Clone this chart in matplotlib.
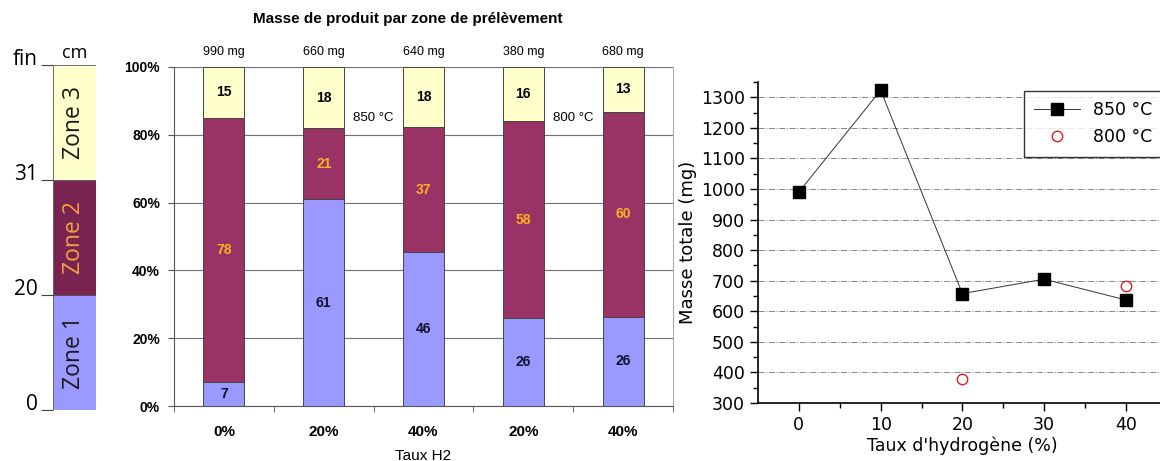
import numpy as np
import matplotlib.pyplot as plt

# data
zones = ['Zone 1', 'Zone 2', 'Zone 3']
zone_marks = ['0', '20', '31', 'fin']

bar_cats = ['0%', '20%', '40%', '20%', '40%']
masses = ['990 mg', '660 mg', '640 mg', '380 mg', '680 mg']
zone1 = [7, 61, 46, 26, 26]
zone2 = [78, 21, 37, 58, 60]
zone3 = [15, 18, 18, 16, 13]

h2_850 = [0, 10, 20, 30, 40]
mass_850 = [990, 1323, 658, 705, 637]
h2_800 = [20, 40]
mass_800 = [380, 682]

c1, c2, c3 = '#9999ff', '#993366', '#ffffcc'

W, H = 1160, 461
fig = plt.figure(figsize=(W / 100, H / 100), dpi=100)

def box(x0, y0, x1, y1):
    return [x0 / W, 1 - y1 / H, (x1 - x0) / W, (y1 - y0) / H]

# ---- left column: sampling zones
axz = fig.add_axes(box(53, 65, 96, 410))
zcols = ['#9999ff', '#7a2250', '#ffffcc']
ztxt = ['#1a1a1a', '#f5a040', '#1a1a1a']
for i, z in enumerate(zones):
    axz.bar(0, 1, bottom=i, width=1, color=zcols[i], edgecolor='#555555', lw=0.6)
    axz.text(0, i + 0.5, z, rotation=90, ha='center', va='center',
             fontsize=16.5, color=ztxt[i], family='Open Sans')
axz.set_xlim(-0.5, 0.5)
axz.set_ylim(0, 3)
axz.set_xticks([])
axz.set_yticks(range(len(zone_marks)))
axz.set_yticklabels(zone_marks, fontsize=15, family='Open Sans', va='baseline')
axz.tick_params(axis='y', length=9, width=0.8, color='#444444', pad=2)
for s in axz.spines.values():
    s.set_visible(False)
axz.text(0, 3.03, 'cm', ha='center', va='bottom', fontsize=13, family='Open Sans')

# ---- middle: 100% stacked bars
axb = fig.add_axes(box(174, 67, 673, 406))
tot = np.array(zone1) + np.array(zone2) + np.array(zone3)
p1 = np.array(zone1) / tot
p2 = np.array(zone2) / tot
p3 = np.array(zone3) / tot
x = np.arange(len(bar_cats))
bw = 0.41
axb.bar(x, p1, bw, color=c1, edgecolor='#444444', lw=0.7, zorder=3)
axb.bar(x, p2, bw, bottom=p1, color=c2, edgecolor='#444444', lw=0.7, zorder=3)
axb.bar(x, p3, bw, bottom=p1 + p2, color=c3, edgecolor='#444444', lw=0.7, zorder=3)
lab = dict(ha='center', va='center', fontsize=10, fontweight='bold', family='Liberation Sans', zorder=4)
for i in range(len(x)):
    axb.text(x[i], p1[i] / 2, str(zone1[i]), color='#101030', **lab)
    axb.text(x[i], p1[i] + p2[i] / 2, str(zone2[i]), color='#ffb020', **lab)
    axb.text(x[i], p1[i] + p2[i] + p3[i] / 2, str(zone3[i]), color='black', **lab)
    axb.text(x[i], 1.045, masses[i], ha='center', va='center', fontsize=9,
             family='Liberation Sans')
axb.text(1.5, 0.85, '850 °C', ha='center', va='center', fontsize=9.5, family='Liberation Sans')
axb.text(3.5, 0.85, '800 °C', ha='center', va='center', fontsize=9.5, family='Liberation Sans')
axb.set_xlim(-0.5, 4.5)
axb.set_ylim(0, 1)
axb.set_yticks(np.linspace(0, 1, 6))
axb.set_yticklabels([f'{int(v)}%' for v in np.linspace(0, 100, 6)],
                    fontsize=10, fontweight='bold', family='Liberation Sans')
axb.set_xticks(x)
axb.set_xticklabels(bar_cats, fontsize=11, fontweight='bold', family='Liberation Sans')
axb.set_xticks(np.arange(-0.5, 5, 1), minor=True)
axb.tick_params(axis='x', which='major', length=0, pad=14)
axb.tick_params(axis='x', which='minor', length=4, color='#555555')
axb.tick_params(axis='y', length=4, color='#555555', pad=6)
axb.grid(axis='y', color='#707070', lw=0.8, zorder=0)
axb.spines['top'].set_visible(False)
axb.spines['right'].set_color('#aaaaaa')
axb.spines['left'].set_color('#555555')
axb.spines['bottom'].set_color('#555555')
axb.set_xlabel('Taux H2', fontsize=11, family='Liberation Sans', labelpad=7)
fig.text(408 / W, 1 - 19 / H, 'Masse de produit par zone de prélèvement', ha='center',
         va='center', fontsize=11, fontweight='bold', family='Liberation Sans')

# ---- right: total mass
axm = fig.add_axes(box(758, 82, 758 + 50 * 8.175, 403))
axm.plot(h2_850, mass_850, color='#333333', lw=0.7, marker='s', ms=9,
         mfc='black', mec='black', label='850 °C', zorder=3)
axm.plot(h2_800, mass_800, ls='none', marker='o', ms=7.5, mfc='none',
         mec='#e02020', mew=1, label='800 °C', zorder=3)
axm.set_xlim(-5, 45)
axm.set_ylim(300, 1350)
axm.set_xticks(range(0, 41, 10))
axm.set_xticks(range(5, 41, 10), minor=True)
axm.set_yticks(range(300, 1301, 100))
axm.set_yticks(range(350, 1351, 100), minor=True)
axm.tick_params(which='major', length=6, width=1, labelsize=12.5)
axm.tick_params(which='minor', length=3.5, width=1)
axm.grid(axis='y', which='major', color='#888888', ls='-.', lw=0.7, zorder=0)
axm.spines['top'].set_visible(False)
axm.spines['right'].set_visible(False)
axm.spines['left'].set_linewidth(1.2)
axm.spines['bottom'].set_linewidth(1.2)
axm.set_xlabel("Taux d'hydrogène (%)", fontsize=12.5, labelpad=2)
axm.set_ylabel('Masse totale (mg)', fontsize=13, labelpad=3)
leg = axm.legend(loc='upper left', bbox_to_anchor=(1024 / W, 1 - 91 / H),
                 bbox_transform=fig.transFigure, fontsize=12.5, frameon=True,
                 fancybox=False, edgecolor='black', borderpad=0.6, handlelength=2.6,
                 labelspacing=0.5, borderaxespad=0)
leg.get_frame().set_linewidth(1.0)

fig.savefig('out.png', dpi=100)
